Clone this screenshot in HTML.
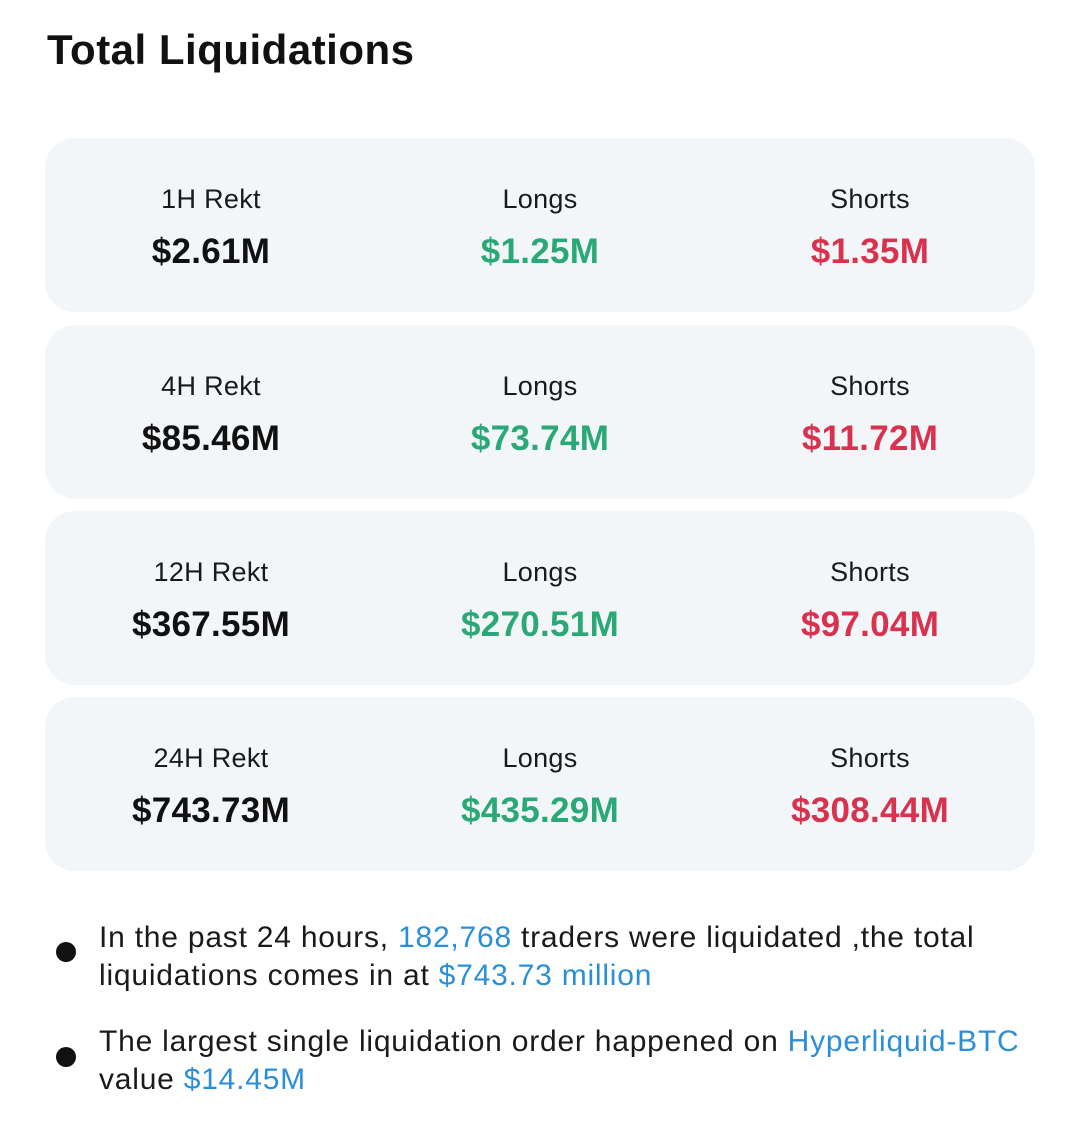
<!DOCTYPE html>
<html><head><meta charset="utf-8"><style>
body{margin:0;width:1080px;height:1124px;background:#fff;font-family:"Liberation Sans",Arial,sans-serif;position:relative;overflow:hidden;color:#111}
.title{position:absolute;left:47px;top:26px;font-size:42px;font-weight:bold;letter-spacing:0.5px}
.card{position:absolute;left:45px;width:990px;height:174px;background:#f3f6f9;border-radius:30px}
.col{position:absolute;width:330px;text-align:center}
.lbl{position:absolute;top:46px;width:100%;font-size:27px;color:#1a1a1a;letter-spacing:0.3px}
.val{position:absolute;top:94px;width:100%;font-size:35px;font-weight:bold;letter-spacing:0.3px}
.g{color:#2aa876}.r{color:#d8324f}.b{color:#2a8fd6}
.bul{position:absolute;left:99px;font-size:30px;line-height:38px;color:#1a1a1a;letter-spacing:0.78px;white-space:nowrap}
.dot{position:absolute;left:56px;width:20px;height:20px;border-radius:50%;background:#111}
</style></head><body>
<div class="title">Total Liquidations</div>
<div id="cards"></div>
<div class="dot" style="top:942px"></div>
<div class="bul" style="top:919px">In the past 24 hours, <span class="b">182,768</span> traders were liquidated ,the total<br>liquidations comes in at <span class="b">$743.73 million</span></div>
<div class="dot" style="top:1047px"></div>
<div class="bul" style="top:1023px">The largest single liquidation order happened on <span class="b">Hyperliquid-BTC</span><br>value <span class="b">$14.45M</span></div>
<script>
const periods=["1H Rekt","4H Rekt","12H Rekt","24H Rekt"];
const totals=["$2.61M","$85.46M","$367.55M","$743.73M"];
const longs=["$1.25M","$73.74M","$270.51M","$435.29M"];
const shorts=["$1.35M","$11.72M","$97.04M","$308.44M"];
const tops=[138,325,511,697];
const host=document.getElementById('cards');
periods.forEach((p,i)=>{
  const c=document.createElement('div');c.className='card';c.style.top=tops[i]+'px';
  
  
  const cols=[[p,totals[i],''],["Longs",longs[i],'g'],["Shorts",shorts[i],'r']];
  const centers=[166,495,825];
  cols.forEach((cl,j)=>{
    const d=document.createElement('div');d.className='col';d.style.left=(centers[j]-165)+'px';d.style.top='0';
    
    
    d.innerHTML='<div class="lbl">'+cl[0]+'</div><div class="val '+cl[2]+'">'+cl[1]+'</div>';
    c.appendChild(d);
  });
  host.appendChild(c);
});
</script>
</body></html>
